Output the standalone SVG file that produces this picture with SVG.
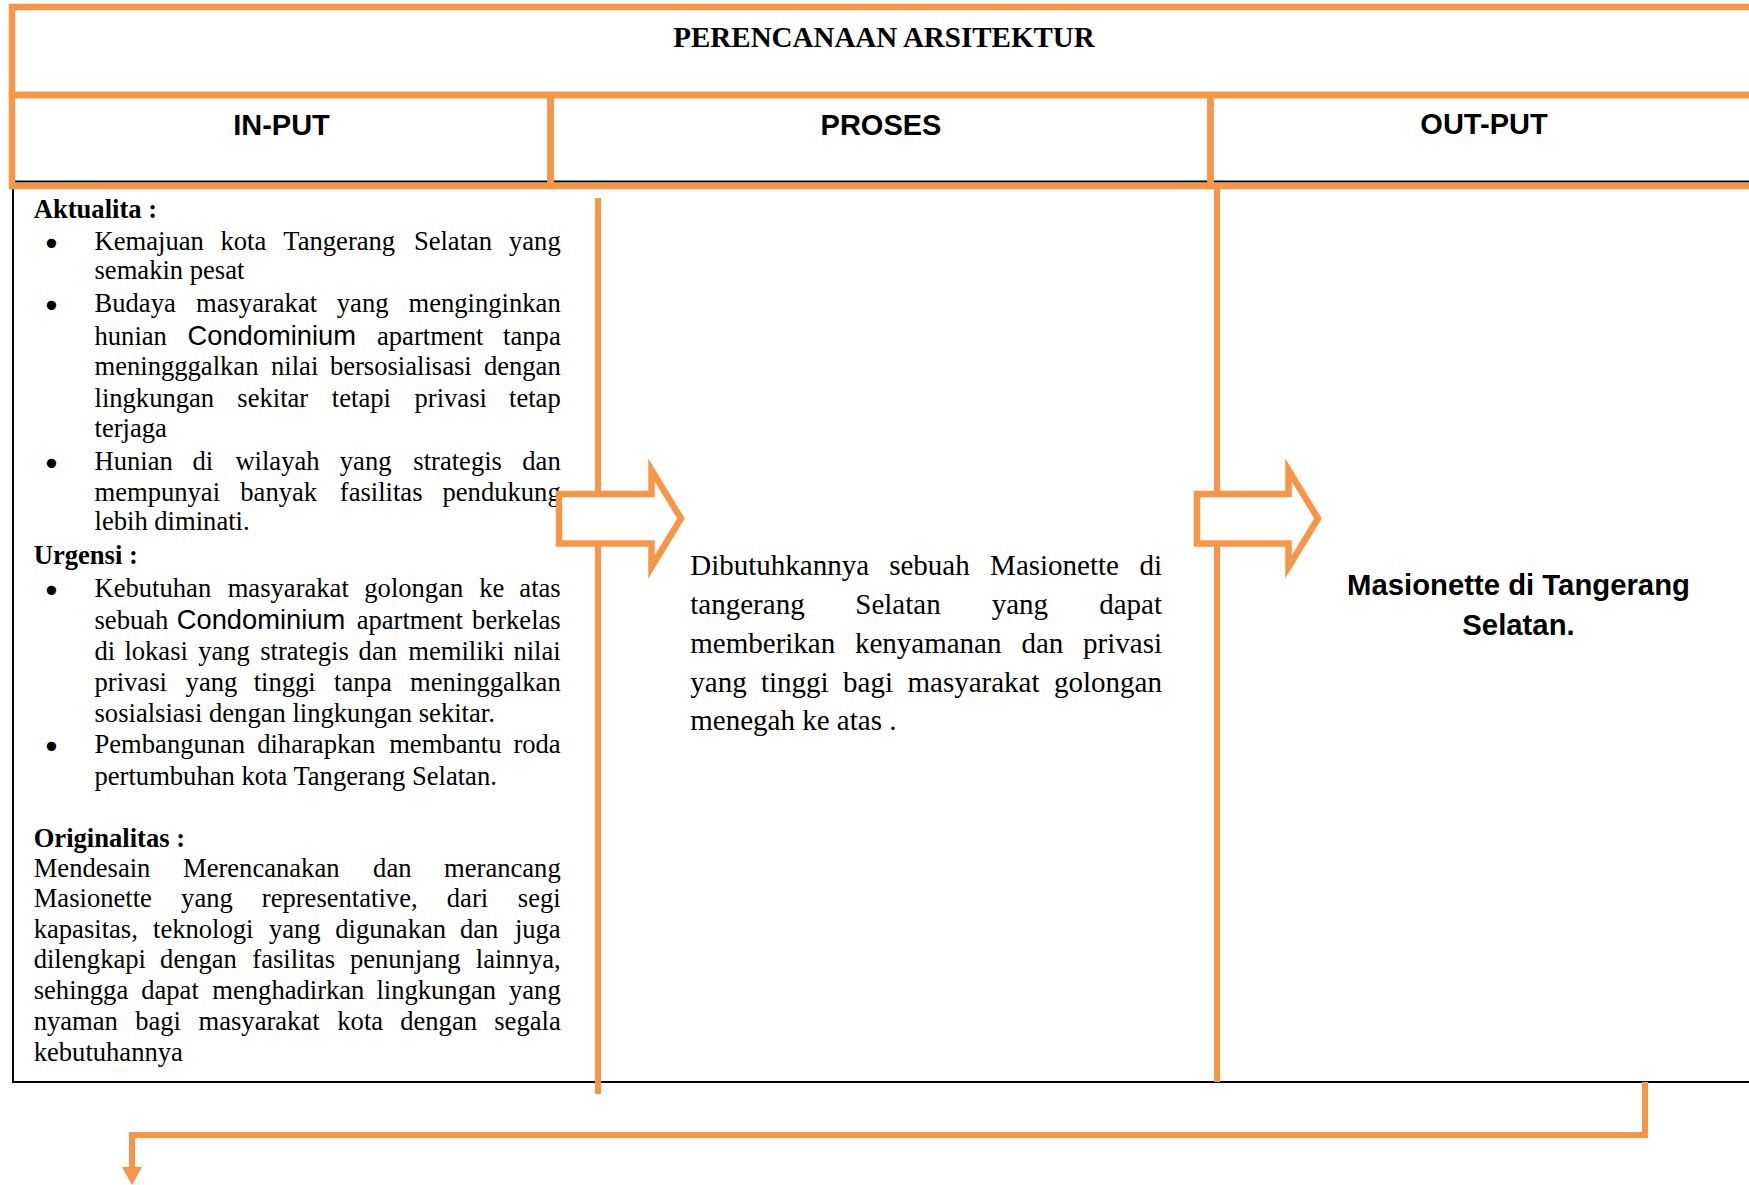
<svg xmlns="http://www.w3.org/2000/svg" width="1749" height="1185" viewBox="0 0 1749 1185">
<style>
.of{fill:none;stroke:#F79646;stroke-width:6.5}
.ol{fill:none;stroke:#F79646;stroke-width:6}
.ba{fill:#fff;stroke:#F79646;stroke-width:6.5;stroke-miterlimit:10}
.title{font-family:"Liberation Serif","Times New Roman",serif;font-weight:bold;font-size:29px;fill:#000}
.hd{font-family:"Liberation Sans",Arial,sans-serif;font-weight:bold;font-size:29px;fill:#000}
.ho{font-family:"Liberation Sans",Arial,sans-serif;font-weight:bold;font-size:29.3px;fill:#000}
.t{font-family:"Liberation Serif","Times New Roman",serif;font-size:26.6px;fill:#000}
.tb{font-family:"Liberation Serif","Times New Roman",serif;font-size:26.6px;font-weight:bold;fill:#000}
.bu{font-family:"DejaVu Sans",sans-serif;font-size:32px;fill:#000}
.cs{font-family:"Liberation Sans",Arial,sans-serif;font-size:27.3px}
.m{font-family:"Liberation Serif","Times New Roman",serif;font-size:29px;fill:#000}
</style>
<defs>
<marker id="ah" markerUnits="userSpaceOnUse" viewBox="0 0 18 20" refX="0" refY="10" markerWidth="18" markerHeight="20" orient="auto">
<path d="M0,0 L18,10 L0,20 z" fill="#F79646"/>
</marker>
</defs>
<rect width="1749" height="1185" fill="#fff"/>

<g id="content-box">
<rect x="13" y="181.5" width="1800" height="900.5" fill="none" stroke="#000" stroke-width="2"/>
</g>

<g id="title">
<rect class="of" x="12" y="7" width="1800" height="88"/>
<text class="title" x="884" y="47" text-anchor="middle">PERENCANAAN ARSITEKTUR</text>
</g>

<g id="header-input">
<rect class="of" x="12" y="95" width="538.5" height="91"/>
<text class="hd" x="281.5" y="135" text-anchor="middle">IN-PUT</text>
</g>
<g id="header-proses">
<rect class="of" x="550.5" y="95" width="660" height="91"/>
<text class="hd" x="881" y="135" text-anchor="middle">PROSES</text>
</g>
<g id="header-output">
<rect class="of" x="1210.5" y="95" width="600" height="91"/>
<text class="hd" x="1484" y="134" text-anchor="middle">OUT-PUT</text>
</g>

<g id="input" transform="translate(0,1.5)">
<text class="tb" x="33.7" y="216.7">Aktualita :</text>
<text class="bu" x="51.5" y="253.4" text-anchor="middle">•</text>
<text class="t" y="248.3"><tspan x="94.5">Kemajuan</tspan><tspan x="220.5">kota</tspan><tspan x="283.3">Tangerang</tspan><tspan x="413.9">Selatan</tspan><tspan x="560.7" text-anchor="end">yang</tspan></text>
<text class="t" x="94.5" y="277.7">semakin pesat</text>
<text class="bu" x="51.5" y="315.8" text-anchor="middle">•</text>
<text class="t" y="310.7"><tspan x="94.5">Budaya</tspan><tspan x="196">masyarakat</tspan><tspan x="336.8">yang</tspan><tspan x="560.7" text-anchor="end">menginginkan</tspan></text>
<text class="t" y="343.3"><tspan x="94.5">hunian</tspan><tspan x="187.5" class="cs">Condominium</tspan><tspan x="377">apartment</tspan><tspan x="560.7" text-anchor="end">tanpa</tspan></text>
<text class="t" y="373.3"><tspan x="94.5">meningggalkan</tspan><tspan x="271">nilai</tspan><tspan x="329.9">bersosialisasi</tspan><tspan x="560.7" text-anchor="end">dengan</tspan></text>
<text class="t" y="405"><tspan x="94.5">lingkungan</tspan><tspan x="237.3">sekitar</tspan><tspan x="331.8">tetapi</tspan><tspan x="414.5">privasi</tspan><tspan x="560.7" text-anchor="end">tetap</tspan></text>
<text class="t" x="94.5" y="435">terjaga</text>
<text class="bu" x="51.5" y="473.4" text-anchor="middle">•</text>
<text class="t" y="468.3"><tspan x="94.5">Hunian</tspan><tspan x="192.5">di</tspan><tspan x="235.4">wilayah</tspan><tspan x="339.8">yang</tspan><tspan x="413.3">strategis</tspan><tspan x="560.7" text-anchor="end">dan</tspan></text>
<text class="t" y="499.3"><tspan x="94.5">mempunyai</tspan><tspan x="240.3">banyak</tspan><tspan x="339.8">fasilitas</tspan><tspan x="560.7" text-anchor="end">pendukung</tspan></text>
<text class="t" x="94.5" y="528.3">lebih diminati.</text>
<text class="tb" x="33.7" y="562">Urgensi :</text>
<text class="bu" x="51.5" y="600.1" text-anchor="middle">•</text>
<text class="t" y="595"><tspan x="94.5">Kebutuhan</tspan><tspan x="227.7">masyarakat</tspan><tspan x="364.3">golongan</tspan><tspan x="479.2">ke</tspan><tspan x="560.7" text-anchor="end">atas</tspan></text>
<text class="t" y="627.3"><tspan x="94.5">sebuah</tspan><tspan x="176.8" class="cs">Condominium</tspan><tspan x="356.7">apartment</tspan><tspan x="560.7" text-anchor="end">berkelas</tspan></text>
<text class="t" y="658.3"><tspan x="94.5">di</tspan><tspan x="124.4">lokasi</tspan><tspan x="198.2">yang</tspan><tspan x="260.2">strategis</tspan><tspan x="358.6">dan</tspan><tspan x="408.3">memiliki</tspan><tspan x="560.7" text-anchor="end">nilai</tspan></text>
<text class="t" y="689.3"><tspan x="94.5">privasi</tspan><tspan x="185.6">yang</tspan><tspan x="253.7">tinggi</tspan><tspan x="334.1">tanpa</tspan><tspan x="560.7" text-anchor="end">meninggalkan</tspan></text>
<text class="t" x="94.5" y="720">sosialsiasi dengan lingkungan sekitar.</text>
<text class="bu" x="51.5" y="756.8" text-anchor="middle">•</text>
<text class="t" y="751.7"><tspan x="94.5">Pembangunan</tspan><tspan x="257.2">diharapkan</tspan><tspan x="389.2">membantu</tspan><tspan x="560.7" text-anchor="end">roda</tspan></text>
<text class="t" x="94.5" y="783.3">pertumbuhan kota Tangerang Selatan.</text>
<text class="tb" x="33.7" y="845">Originalitas :</text>
<text class="t" y="875"><tspan x="33.7">Mendesain</tspan><tspan x="183">Merencanakan</tspan><tspan x="373.1">dan</tspan><tspan x="560.7" text-anchor="end">merancang</tspan></text>
<text class="t" y="905"><tspan x="33.7">Masionette</tspan><tspan x="181.1">yang</tspan><tspan x="261.8">representative,</tspan><tspan x="446.8">dari</tspan><tspan x="560.7" text-anchor="end">segi</tspan></text>
<text class="t" y="936"><tspan x="33.7">kapasitas,</tspan><tspan x="153">teknologi</tspan><tspan x="268.9">yang</tspan><tspan x="335.3">digunakan</tspan><tspan x="459.9">dan</tspan><tspan x="560.7" text-anchor="end">juga</tspan></text>
<text class="t" y="966.7"><tspan x="33.7">dilengkapi</tspan><tspan x="160.1">dengan</tspan><tspan x="252.3">fasilitas</tspan><tspan x="349.9">penunjang</tspan><tspan x="560.7" text-anchor="end">lainnya,</tspan></text>
<text class="t" y="997.3"><tspan x="33.7">sehingga</tspan><tspan x="141.2">dapat</tspan><tspan x="212.3">menghadirkan</tspan><tspan x="376.4">lingkungan</tspan><tspan x="560.7" text-anchor="end">yang</tspan></text>
<text class="t" y="1028.3"><tspan x="33.7">nyaman</tspan><tspan x="135.2">bagi</tspan><tspan x="198.5">masyarakat</tspan><tspan x="337.3">kota</tspan><tspan x="400.2">dengan</tspan><tspan x="560.7" text-anchor="end">segala</tspan></text>
<text class="t" x="33.7" y="1059.3">kebutuhannya</text>
</g>

<g id="proses" transform="translate(0,1.5)">
<text class="m" y="573"><tspan x="690.3">Dibutuhkannya</tspan><tspan x="889.2">sebuah</tspan><tspan x="990.1">Masionette</tspan><tspan x="1162" text-anchor="end">di</tspan></text>
<text class="m" y="612.5"><tspan x="690.3">tangerang</tspan><tspan x="855.3">Selatan</tspan><tspan x="991.7">yang</tspan><tspan x="1162" text-anchor="end">dapat</tspan></text>
<text class="m" y="651.5"><tspan x="690.3">memberikan</tspan><tspan x="854.9">kenyamanan</tspan><tspan x="1021.4">dan</tspan><tspan x="1162" text-anchor="end">privasi</tspan></text>
<text class="m" y="690"><tspan x="690.3">yang</tspan><tspan x="760.9">tinggi</tspan><tspan x="843.1">bagi</tspan><tspan x="907.5">masyarakat</tspan><tspan x="1162" text-anchor="end">golongan</tspan></text>
<text class="m" x="690.3" y="728">menegah ke atas .</text>
</g>

<g id="output">
<text class="ho" x="1518.5" y="595" text-anchor="middle">Masionette di Tangerang</text>
<text class="ho" x="1518.5" y="634.5" text-anchor="middle">Selatan.</text>
</g>

<g id="connectors">
<line class="ol" x1="598" y1="198" x2="598" y2="1094"/>
<line class="ol" x1="1217" y1="189" x2="1217" y2="1082"/>
<polygon class="ba" points="559,494 651.5,494 651.5,470 681,518.5 651.5,567 651.5,543.5 559,543.5"/>
<polygon class="ba" points="1197,494 1288.5,494 1288.5,470 1318,518.5 1288.5,567 1288.5,543.5 1197,543.5"/>
<path class="ol" d="M1645,1082 V1135 H132 V1167" stroke-linejoin="miter" marker-end="url(#ah)"/>
</g>
</svg>
